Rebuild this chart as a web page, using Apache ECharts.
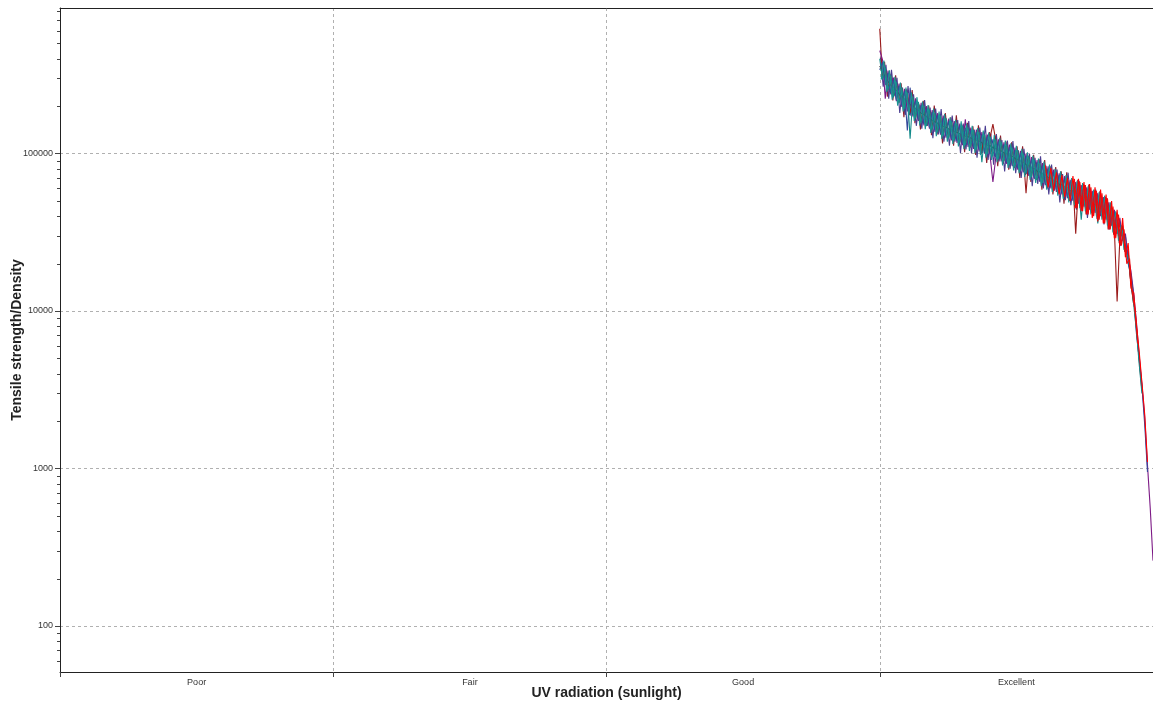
<!DOCTYPE html>
<html>
<head>
<meta charset="utf-8">
<script src="https://cdn.jsdelivr.net/npm/echarts@6/dist/echarts.min.js"></script>
<style>html,body{margin:0;padding:0;background:#fff;}#chart{width:1153px;height:706px;}</style>
</head>
<body>
<div id="chart"></div>
<script>
// ---- data ----
const categories = ['Poor', 'Fair', 'Good', 'Excellent'];
const yTickValues = [100, 1000, 10000, 100000];
const minorTickValues = [60, 70, 80, 90, 200, 300, 400, 500, 600, 700, 800, 900,
  2000, 3000, 4000, 5000, 6000, 7000, 8000, 9000,
  20000, 30000, 40000, 50000, 60000, 70000, 80000, 90000,
  200000, 300000, 400000, 500000, 600000, 700000, 800000];

// ranked samples inside the "Excellent" band (rank index 0..99)
const tealValues = [400000,296000,353000,252000,314000,228000,285000,209000,262000,193000,
  245000,124000,228000,168000,213000,157000,201000,150000,190000,142000,
  181000,136000,174000,130000,168000,125000,161000,121000,155000,117000,
  150000,113000,146000,110000,141000,106000,137000,88000,132000,99000,
  128000,96000,123000,92000,119000,89000,114000,85000,109000,82000,
  105000,78000,100000,75000,96000,71000,91000,68000,87000,65000,
  83000,62000,80000,59000,76000,57000,72000,54000,69000,51000,
  66000,50000,63000,38000,60000,45000,58000,43000,54000,36000,
  53000,40000,48000,37000,44000,32000,38000,29000,32500,24000,
  22000,16000,11000,7500,4600,3000];
// second teal run, sampled half a rank later
const teal2Values = [295000,390000,246000,338000,220000,307000,201000,282000,185000,262000,
  173000,244000,161000,228000,151000,214000,143000,203000,135000,193000,
  129000,185000,124000,178000,119000,170000,115000,164000,111000,160000,
  107000,155000,104000,150000,101000,145000,98000,140000,94000,136000,
  91000,131000,88000,126000,84000,121000,81000,116000,78000,112000,
  75000,107000,71000,102000,68000,97000,65000,93000,62000,89000,
  59000,85000,57000,80000,54000,77000,51500,73000,49000,70000,
  47000,67000,45000,65000,43000,62000,41000,59000,40000,57000,
  38000,54000,35000,49000,31500,43000,28000,35000,24500,24500];
const navyValues = [340000,380000,273000,325000,242000,293000,220000,269000,202000,249000,
  140000,262000,176000,216000,165000,203000,155000,193000,147000,183000,
  140000,175000,135000,168000,129000,161000,124000,156000,120000,150000,
  116000,146000,113000,141000,109000,137000,106000,132000,102000,128000,
  99000,123000,95000,119000,92000,114000,88000,110000,84000,105000,
  81000,101000,77000,96000,74000,92000,70000,88000,67000,84000,
  64000,80000,62000,76000,59000,73000,56000,69000,53000,66000,
  51000,64000,49000,61000,47000,58000,45000,56000,43000,54000,
  41000,52000,39000,47000,35000,42000,31000,37000,28000,30000,
  20000,17000,12500,7200,5000,3300,1900,950];
// second indigo run, sampled a quarter rank later
const indigoValues = [407000,266000,366000,223000,340000,233000,303000,181000,262000,176000,
  268000,174000,238000,150000,205000,144000,219000,150000,196000,125000,
  193000,132000,192000,119000,164000,112000,174000,119000,163000,101000,
  155000,106000,161000,100000,142000,94000,146000,101000,150000,91000,
  134000,85000,133000,89000,122000,77000,121000,80000,120000,75000,
  105000,70000,107000,74000,100000,62000,94000,64000,96000,60000,
  83500,55000,85000,58000,79000,49000,74000,50500,75600,47000,
  66000,44000,67000,46000,63000,39000,60000,41000,59000,38000,
  54000,35500,52000,33000,45000,29500,38000,26000,31500,22000];
const purpleValues = [450000,394000,223000,336000,237000,304000,215000,278000,198000,258000,
  185000,240000,172000,224000,161000,210000,151000,200000,144000,189000,
  137000,181000,132000,174000,126000,167000,121000,161000,117000,155000,
  113000,165000,110000,146000,107000,142000,103000,137000,100000,132000,
  96000,66000,93000,123000,89000,118000,86000,114000,83000,109000,
  79000,104000,76000,100000,72000,95000,69000,91000,66000,87000,
  63000,83000,60000,79000,57000,75000,55000,72000,52000,68000,
  50000,66000,48000,63000,46000,61000,44000,58000,42000,56000,
  40000,53000,38000,49000,35000,44000,31000,39000,28000,31000,
  22000,18000,13000,8500,5200,3400,2100,1050,560,260];
const maroonValues = [620000,299000,350000,255000,311000,231000,283000,211000,260000,195000,
  243000,182000,226000,170000,211000,159000,199000,151000,189000,143000,
  180000,137000,173000,132000,166000,127000,159000,122000,154000,118000,
  149000,114000,145000,111000,140000,107000,136000,104000,131000,100000,
  127000,154000,122000,93000,118000,90000,113000,86000,108000,83000,
  104000,79000,99000,56000,95000,72000,90000,69000,86000,66000,
  82000,63000,79000,60000,75000,57000,72000,55000,68000,52000,
  66000,31000,63000,48000,60000,46000,58000,44000,55000,42000,
  53000,40000,50000,37000,45000,33000,11500,29000,35000,24000,
  24000,15000,12000,7800,4900,3100];
// second maroon run, sampled three quarters of a rank later
const maroon2Values = [298000,382000,230000,321000,217000,314000,213000,279000,170000,256000,
  176000,253000,156000,211000,142000,216000,149000,202000,131000,202000,
  132000,177000,116000,181000,128000,170000,112000,175000,113000,152000,
  102000,157000,109000,149000,98000,151000,99500,134000,87000,137000,
  97000,130000,83000,130000,86000,119000,79000,118000,81000,111000,
  70000,111000,73000,97000,66000,98000,68000,92000,59000,91000,
  60000,83000,55000,82000,56000,77000,48000,76000,50000,67000,
  46000,68000,47000,64000,41000,63500,42000,58000,38500,57600,
  40000,53000,33000,48600,30500,42000,27000,34600,23800];
const blackValues = [360000,335000,305000,288000,272000,260000,252000,238000,232000,220000,
  216000,205000,201000,192000,188000,180000,177000,170000,167000,162000,
  159000,155000,152000,149000,147000,143000,141000,138000,136000,133000,
  132000,129000,128000,125000,124000,121000,120000,117000,116000,113000,
  112000,109000,108000,105000,104000,101000,100000,97000,96000,93000,
  92000,89000,88000,85000,84000,81000,80000,77500,76500,74000,
  73000,70500,70000,67000,66500,64000,63500,61000,60500,58000,
  58000,56000,55500,53500,53000,51000,50500,48000,47500,45000,
  45000,42500,42000,39500,39000,36000,35000,32000,30000,26000,
  22000,15000,11000];
const redStartRank = 60;
const redValues = [84000,61000,81000,58000,76000,55000,73000,53000,70000,50000,
  72000,45000,69000,43000,66000,41000,64000,39000,61000,37000,
  59000,36000,55000,33000,50000,29000,44000,26000,39000,22000,
  27000,14000,13000,8200,5500,3500,2200,1100];
// second red run, sampled half a rank later
const red2StartRank = 70.5;
const red2Values = [69000,45000,66000,43000,63000,41000,61000,40000,58000,38000,
  56000,36000,52000,33000,46000,29000,41000,26000,33000,20000,
  21500,13000,10000,6200];

// rank axis: 4 equal bands, last band holds the 100 ranked samples
const rankMin = -297, rankMax = 99;

function toPairs(values, start) {
  return values.map((v, i) => [start + i, v]);
}

const font = 'Liberation Sans, Arial, sans-serif';
const lineSeries = [
  { name: 'maroon2', color: '#8e1f2c', values: maroon2Values, start: 0.75 },
  { name: 'indigo', color: '#4b3d91', values: indigoValues, start: 0.25 },
  { name: 'black', color: '#222222', values: blackValues, start: 0 },
  { name: 'maroon', color: '#9b1b1b', values: maroonValues, start: 0 },
  { name: 'purple', color: '#7d1a86', values: purpleValues, start: 0 },
  { name: 'navy', color: '#34489a', values: navyValues, start: 0 },
  { name: 'teal', color: '#138a8a', values: tealValues, start: 0 },
  { name: 'teal2', color: '#1a9494', values: teal2Values, start: 0.5 },
  { name: 'red', color: '#ff0000', values: redValues, start: redStartRank },
  { name: 'red2', color: '#f00a0a', values: red2Values, start: red2StartRank }
].map(s => ({
  type: 'line',
  name: s.name,
  xAxisIndex: 1,
  yAxisIndex: 0,
  data: toPairs(s.values, s.start),
  showSymbol: false,
  symbol: 'none',
  lineStyle: { color: s.color, width: 1.1 },
  itemStyle: { color: s.color },
  silent: true,
  animation: false
}));

const isMajor = v => { const l = Math.log10(v); return Math.abs(l - Math.round(l)) < 1e-6; };

const option = {
  backgroundColor: '#ffffff',
  animation: false,
  grid: { left: 60, right: 0, top: 8, bottom: 34, containLabel: false, outerBoundsMode: 'none' },
  xAxis: [
    {
      type: 'category',
      data: categories,
      boundaryGap: true,
      position: 'bottom',
      axisLine: { show: true, onZero: false, lineStyle: { color: '#222', width: 1 } },
      axisTick: { show: true, length: 5, lineStyle: { color: '#444' } },
      axisLabel: { color: '#333', fontSize: 9, fontFamily: font, margin: 6 },
      splitLine: { show: true, lineStyle: { color: '#b0b0b0', type: [3, 3], width: 1 } },
      name: 'UV radiation (sunlight)',
      nameLocation: 'middle',
      nameGap: 14,
      nameMoveOverlap: false,
      nameTextStyle: { color: '#222', fontSize: 14, fontWeight: 'bold', fontFamily: font }
    },
    {
      type: 'value',
      min: rankMin,
      max: rankMax,
      position: 'top',
      axisLine: { show: true, onZero: false, lineStyle: { color: '#222', width: 1 } },
      axisTick: { show: false },
      axisLabel: { show: false },
      splitLine: { show: false }
    }
  ],
  yAxis: [{
    type: 'log',
    logBase: 10,
    min: 51,
    max: 840000,
    position: 'left',
    axisLine: { show: true, onZero: false, lineStyle: { color: '#222', width: 1 } },
    axisTick: { show: true, length: 5, lineStyle: { color: '#444' } },
    axisLabel: {
      color: '#333', fontSize: 9, fontFamily: font, margin: 7,
      showMinLabel: false, showMaxLabel: false,
      formatter: v => (isMajor(v) && yTickValues.indexOf(Math.round(v)) >= 0) ? String(Math.round(v)) : ''
    },
    splitLine: { show: true, lineStyle: { color: '#b0b0b0', type: [3, 3], width: 1 } },
    name: 'Tensile strength/Density',
    nameLocation: 'middle',
    nameRotate: 90,
    nameGap: 36,
    nameMoveOverlap: false,
    nameTextStyle: { color: '#222', fontSize: 14, fontWeight: 'bold', fontFamily: font }
  }],
  series: [
    {
      type: 'custom',
      name: 'minorTicks',
      xAxisIndex: 1,
      yAxisIndex: 0,
      clip: false,
      silent: true,
      z: 5,
      data: minorTickValues.map(v => [rankMin, v]),
      renderItem: function (params, api) {
        const p = api.coord([rankMin, api.value(1)]);
        const y = Math.round(p[1]) + 0.5;
        const x = Math.round(p[0]);
        return {
          type: 'line',
          shape: { x1: x - 3, y1: y, x2: x, y2: y },
          style: { stroke: '#444', lineWidth: 1 }
        };
      }
    }
  ].concat(lineSeries)
};

const chart = echarts.init(document.getElementById('chart'), null, { renderer: 'canvas' });
chart.setOption(option);
</script>
</body>
</html>
